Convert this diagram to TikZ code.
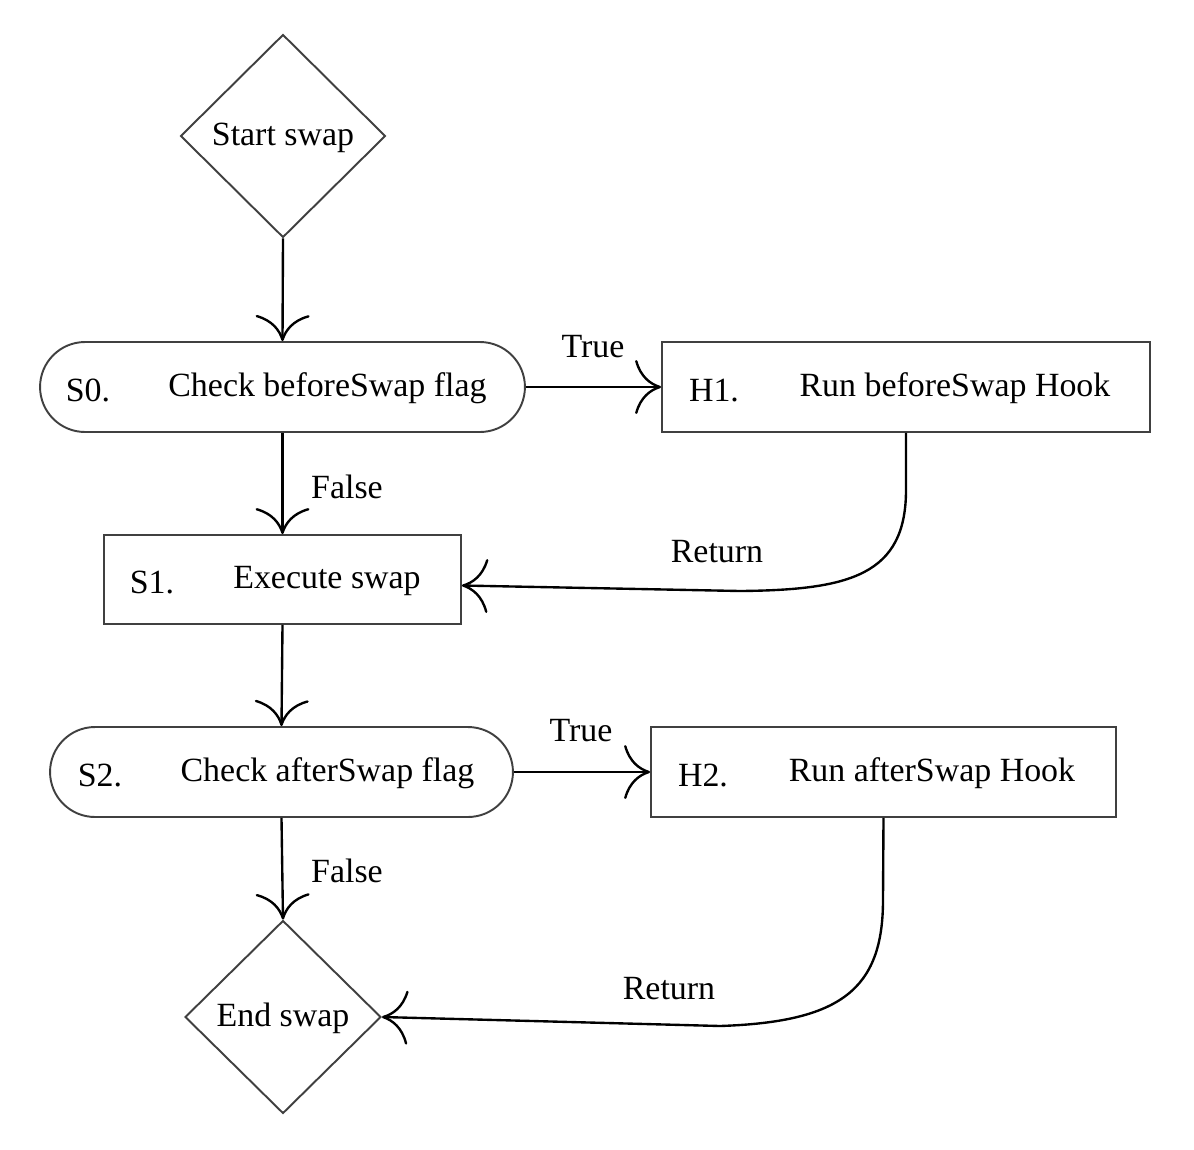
\documentclass[tikz,border=0pt]{standalone}
\usepackage{fontspec}
\setmainfont{Liberation Serif}
\usetikzlibrary{shapes.geometric,shapes.misc,arrows.meta}
\begin{document}
\begin{tikzpicture}[x=0.02cm,y=-0.02cm,
  every node/.style={font=\fontsize{19.3}{22}\selectfont},
  boxline/.style={draw=black!75,line width=1.1pt},
  rbox/.style={boxline,rectangle,inner sep=0pt},
  pill/.style={boxline,rounded rectangle,inner sep=0pt},
  dia/.style={boxline,diamond,aspect=1,inner sep=0pt},
  txt/.style={inner sep=0pt,anchor=base},
  lbl/.style={inner sep=0pt,anchor=center},
  arr/.style={line width=1.35pt,-{Computer Modern Rightarrow[length=0.52cm,width=1.08cm,line width=1.35pt]}}]
\useasboundingbox (0,0) rectangle (1194,1150);
% shapes
\node[dia,minimum width=4.1cm,minimum height=4.06cm] (start) at (283,136) {};
\node[pill,minimum width=9.7cm,minimum height=1.8cm] (s0) at (282.5,387) {};
\node[rbox,minimum width=9.76cm,minimum height=1.8cm] (h1) at (906,387) {};
\node[rbox,minimum width=7.14cm,minimum height=1.78cm] (s1) at (282.5,579.5) {};
\node[pill,minimum width=9.26cm,minimum height=1.8cm] (s2) at (281.5,772) {};
\node[rbox,minimum width=9.3cm,minimum height=1.8cm] (h2) at (883.5,772) {};
\node[dia,minimum width=3.92cm,minimum height=3.86cm] (end) at (283,1017) {};
% texts
\node[txt] (tstart) at (283,145) {Start swap};
\node[txt] (tend) at (283,1026) {End swap};
\node[txt] (p0) at (88,401) {S0.};
\node[txt] (m0) at (327.5,396) {Check beforeSwap flag};
\node[txt] (ph1) at (714,401) {H1.};
\node[txt] (mh1) at (955,396) {Run beforeSwap Hook};
\node[txt] (p1) at (152,593) {S1.};
\node[txt] (m1) at (327,588) {Execute swap};
\node[txt] (p2) at (100,786) {S2.};
\node[txt] (m2) at (327.5,781) {Check afterSwap flag};
\node[txt] (ph2) at (703,786) {H2.};
\node[txt] (mh2) at (932,781) {Run afterSwap Hook};
% labels
\node[lbl] (ltrue1) at (593,347) {True};
\node[lbl] (lfalse1) at (347,487) {False};
\node[lbl] (lret1) at (717,552) {Return};
\node[lbl] (ltrue2) at (581,731) {True};
\node[lbl] (lfalse2) at (347,871) {False};
\node[lbl] (lret2) at (669,989) {Return};
% connectors
\draw[arr] (start.south) -- (s0.north);
\draw[arr] (s0.east) -- (h1.west);
\draw[arr] (s0.south) -- (s1.north);
\draw[arr] (h1.south) -- (906,490) .. controls (906,575) and (850,590) .. (740,591) -- ([yshift=-0.12cm]s1.east);
\draw[arr] (s1.south) -- (s2.north);
\draw[arr] (s2.east) -- (h2.west);
\draw[arr] (s2.south) -- (end.north);
\draw[arr] (h2.south) -- (883,900) .. controls (883,990) and (840,1022) .. (720,1026) -- (end.east);
\end{tikzpicture}
\end{document}
